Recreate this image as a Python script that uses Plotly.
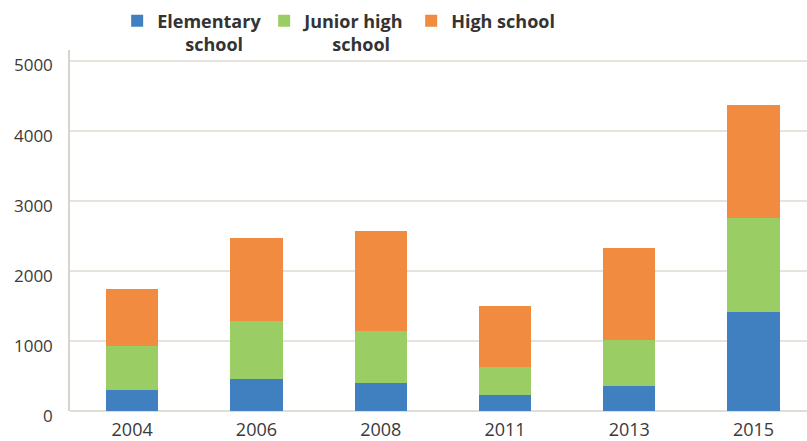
import plotly.graph_objects as go

years = ["2004", "2006", "2008", "2011", "2013", "2015"]
elementary = [306, 459, 402, 225, 354, 1414]
junior_high = [618, 821, 736, 399, 665, 1340]
high_school = [818, 1193, 1435, 870, 1312, 1611]
y_ticks = [0, 1000, 2000, 3000, 4000, 5000]

series = [
    ("Elementary<br>\u00a0\u00a0\u00a0\u00a0\u00a0\u00a0school", elementary, "#4180C0"),
    ("Junior high<br>\u00a0\u00a0\u00a0\u00a0\u00a0\u00a0school", junior_high, "#9BCD65"),
    ("High school", high_school, "#F08B3F"),
]

fig = go.Figure()
for name, vals, color in series:
    fig.add_trace(go.Bar(x=years, y=vals, name=name, marker_color=color,
                         marker_line_width=0, width=0.42))

fig.update_layout(
    barmode="stack",
    width=807, height=441,
    margin=dict(l=70, r=0, t=50, b=30, autoexpand=False),
    paper_bgcolor="white", plot_bgcolor="white",
    font=dict(family="Open Sans", size=18, color="#3a3a3a"),
    legend=dict(orientation="h", x=0.064, xref="paper", y=0.994, yref="container",
                yanchor="top", xanchor="left",
                font=dict(size=18, family="Open Sans", weight="bold", color="#333"),
                traceorder="normal", itemwidth=30, valign="top",
                entrywidth=102, entrywidthmode="pixels", bgcolor="rgba(0,0,0,0)"),
    xaxis=dict(range=[-0.5, 5.43], showgrid=False, showline=False, ticks="",
               ticklabelstandoff=6, tickfont=dict(size=18)),
    yaxis=dict(range=[0, 5150], tickvals=y_ticks, showgrid=True, gridcolor="#E6E2DC",
               gridwidth=1.5, showline=True, linecolor="#D8D4CC", linewidth=1.5,
               zeroline=True, zerolinecolor="#E0DCD6", zerolinewidth=1.5,
               ticks="", ticklabelstandoff=12, ticklabelshift=5,
               tickfont=dict(size=17)),
    bargap=0.58,
)

fig.write_html("out.html", config={"displayModeBar": False},
               post_script="document.body.style.margin='0';")
